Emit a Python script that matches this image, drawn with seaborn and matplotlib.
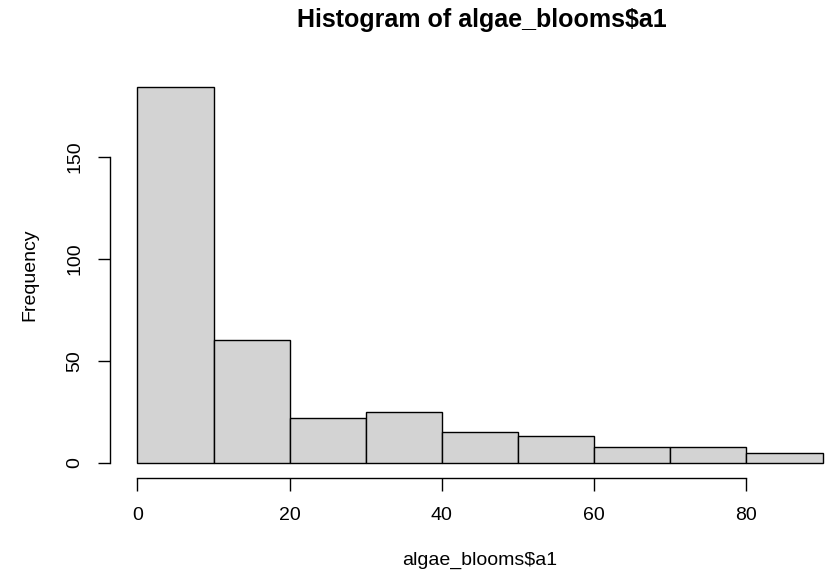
import numpy as np
import pandas as pd
import matplotlib
matplotlib.use("Agg")
import matplotlib.pyplot as plt
import seaborn as sns

# Data
bin_edges = [0, 10, 20, 30, 40, 50, 60, 70, 80, 90]
counts = [184, 60, 22, 25, 15, 13, 8, 8, 5]
x_ticks = [0, 20, 40, 60, 80]
y_ticks = [0, 50, 100, 150]
title = "Histogram of algae_blooms$a1"
x_label = "algae_blooms$a1"
y_label = "Frequency"

centers = [(a + b) / 2 for a, b in zip(bin_edges[:-1], bin_edges[1:])]
df = pd.DataFrame({"value": centers, "count": counts})

sns.set_style("white")
plt.rcParams["font.family"] = ["Liberation Sans", "DejaVu Sans"]
plt.rcParams["text.color"] = "black"
plt.rcParams["axes.labelcolor"] = "black"

W, H = 825, 583
fig = plt.figure(figsize=(W / 100, H / 100), dpi=100)
# plot region in pixels: left 110, right 850, bottom 478, top 72
ax = fig.add_axes([110 / W, (H - 478) / H, 740 / W, (478 - 72) / H])

sns.histplot(data=df, x="value", weights="count", bins=bin_edges, ax=ax,
             color="#D3D3D3", edgecolor="black", linewidth=1.0, alpha=1.0)

xmin, xmax = bin_edges[0], bin_edges[-1]
xr = xmax - xmin
ax.set_xlim(xmin - 0.04 * xr, xmax + 0.04 * xr)
ymax = max(counts)
ax.set_ylim(-0.04 * ymax, ymax * 1.04)

ax.set_xticks(x_ticks)
ax.set_yticks(y_ticks)
ax.set_yticklabels([str(v) for v in y_ticks], rotation=90, va="center")

for s in ["top", "right"]:
    ax.spines[s].set_visible(False)
ax.spines["left"].set_bounds(y_ticks[0], y_ticks[-1])
ax.spines["bottom"].set_bounds(x_ticks[0], x_ticks[-1])
for s in ["left", "bottom"]:
    ax.spines[s].set_color("black")
    ax.spines[s].set_linewidth(1.0)

ax.tick_params(axis="both", direction="out", length=9, width=1.0,
               color="black", labelsize=14, labelcolor="black",
               bottom=True, left=True)
ax.tick_params(axis="x", pad=12)
ax.tick_params(axis="y", pad=10)

ax.set_xlabel(x_label, fontsize=14, labelpad=20, color="black")
ax.set_ylabel(y_label, fontsize=14, labelpad=20, color="black")
ax.grid(False)

fig.text(482 / W, 1 - 20 / H, title, ha="center", va="center",
         fontsize=18, fontweight="bold", color="black")

fig.savefig("out.png", dpi=100)
